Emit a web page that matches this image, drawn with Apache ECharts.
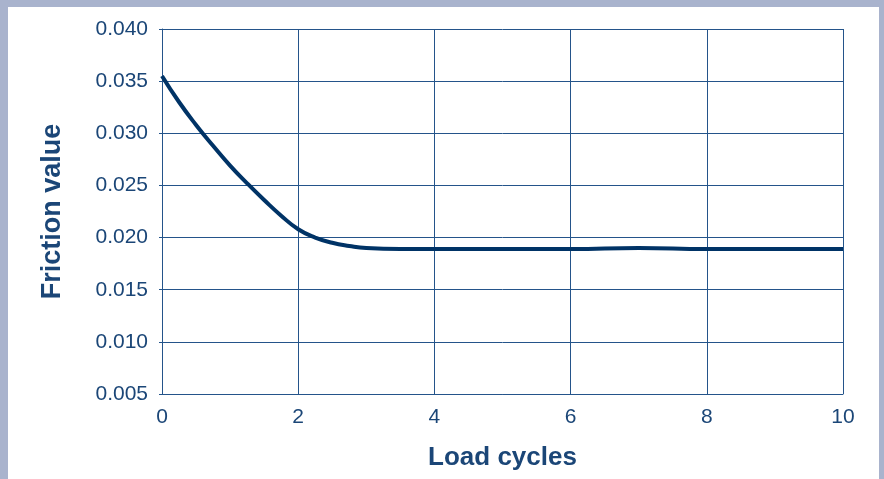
<!DOCTYPE html>
<html>
<head>
<meta charset="utf-8">
<script src="https://cdn.jsdelivr.net/npm/echarts@6/dist/echarts.min.js"></script>
<style>html,body{margin:0;padding:0;}#c{width:884px;height:479px;}</style>
</head>
<body>
<div id="c"></div>
<script>
var loadCycles = [0, 0.25, 0.5, 0.75, 1, 1.25, 1.5, 1.75, 2, 2.25, 2.5, 2.75, 3, 3.5, 4, 5, 6, 7, 8, 9, 10];
var frictionValues = [0.0355, 0.0330, 0.0308, 0.0288, 0.0269, 0.0252, 0.0236, 0.0221, 0.0208, 0.0200, 0.0195, 0.0192, 0.0190, 0.0189, 0.0189, 0.0189, 0.0189, 0.0190, 0.0189, 0.0189, 0.0189];
var xTitle = 'Load cycles';
var yTitle = 'Friction value';

var textColor = '#1b4677';
var gridColor = '#24548a';
var data = loadCycles.map(function (x, i) { return [x, frictionValues[i]]; });

var chart = echarts.init(document.getElementById('c'), null, {renderer: 'canvas'});
chart.setOption({
  backgroundColor: '#a9b3cd',
  animation: false,
  graphic: [{
    type: 'rect', z: -10, silent: true,
    shape: {x: 8, y: 7, width: 871, height: 472},
    style: {fill: '#ffffff'}
  }],
  grid: {left: 162, right: 41, top: 29, bottom: 85, show: false},
  xAxis: {
    type: 'value', min: 0, max: 10, interval: 2,
    name: xTitle, nameLocation: 'middle', nameGap: 51,
    nameTextStyle: {color: textColor, fontSize: 26, fontWeight: 'bold', fontFamily: 'Liberation Sans, Arial, sans-serif'},
    axisLine: {show: true, lineStyle: {color: gridColor, width: 1}},
    axisTick: {show: false},
    axisLabel: {color: textColor, fontSize: 21, margin: 13, fontFamily: 'Liberation Sans, Arial, sans-serif'},
    splitLine: {show: true, lineStyle: {color: gridColor, width: 1}}
  },
  yAxis: {
    type: 'value', min: 0.005, max: 0.040, interval: 0.005,
    name: yTitle, nameLocation: 'middle', nameGap: 96, nameRotate: 90,
    nameTextStyle: {color: textColor, fontSize: 27, fontWeight: 'bold', fontFamily: 'Liberation Sans, Arial, sans-serif'},
    axisLine: {show: true, lineStyle: {color: gridColor, width: 1}},
    axisTick: {show: true, length: 3, lineStyle: {color: gridColor}},
    axisLabel: {color: textColor, fontSize: 21, margin: 14, fontFamily: 'Liberation Sans, Arial, sans-serif',
      formatter: function (v) { return v.toFixed(3); }},
    splitLine: {show: true, lineStyle: {color: gridColor, width: 1}}
  },
  series: [{
    type: 'line', data: data, smooth: 0.5, showSymbol: false,
    lineStyle: {color: '#003366', width: 4}
  }]
});
</script>
</body>
</html>
